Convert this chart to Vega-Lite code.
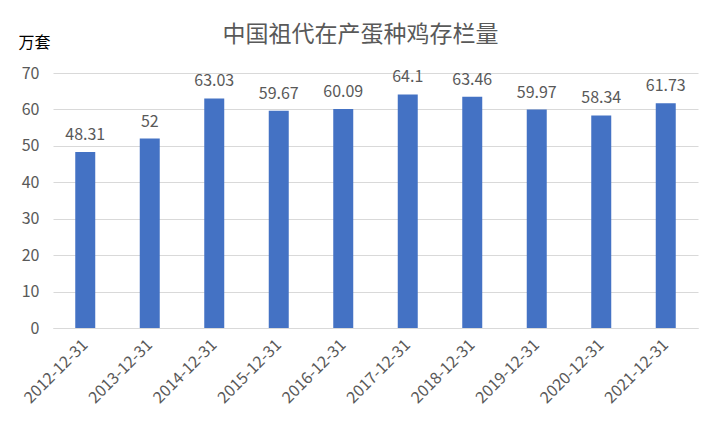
{
  "$schema": "https://vega.github.io/schema/vega-lite/v6.json",
  "width": 645,
  "height": 255,
  "autosize": {"type": "none"},
  "padding": {"left": 53, "top": 73, "right": 23, "bottom": 104},
  "background": "white",
  "title": {
    "text": "中国祖代在产蛋种鸡存栏量",
    "anchor": "middle",
    "dx": -15,
    "offset": 0,
    "dy": 13,
    "font": "Noto Sans CJK SC",
    "fontSize": 23,
    "fontWeight": "normal",
    "color": "#595959"
  },
  "data": {
    "values": [
      {"date": "2012-12-31", "value": 48.31},
      {"date": "2013-12-31", "value": 52},
      {"date": "2014-12-31", "value": 63.03},
      {"date": "2015-12-31", "value": 59.67},
      {"date": "2016-12-31", "value": 60.09},
      {"date": "2017-12-31", "value": 64.1},
      {"date": "2018-12-31", "value": 63.46},
      {"date": "2019-12-31", "value": 59.97},
      {"date": "2020-12-31", "value": 58.34},
      {"date": "2021-12-31", "value": 61.73}
    ]
  },
  "config": {
    "view": {"stroke": null},
    "font": "Noto Sans CJK SC"
  },
  "encoding": {
    "x": {
      "field": "date",
      "type": "nominal",
      "sort": null,
      "scale": {"paddingInner": 0.69, "paddingOuter": 0.345},
      "axis": {
        "title": null,
        "labelAngle": -45,
        "labelAlign": "right",
        "labelBaseline": "middle",
        "labelFontSize": 16,
        "labelColor": "#595959",
        "labelPadding": 14,
        "ticks": false,
        "domainColor": "#d9d9d9",
        "domainWidth": 1
      }
    },
    "y": {
      "field": "value",
      "type": "quantitative",
      "scale": {"domain": [0, 70], "nice": false},
      "axis": {
        "values": [0, 10, 20, 30, 40, 50, 60, 70],
        "title": "万套",
        "titleAngle": 0,
        "titleAlign": "center",
        "titleBaseline": "bottom",
        "titleX": -19,
        "titleY": -23,
        "titleFontSize": 16,
        "titleFontWeight": "normal",
        "titleColor": "#000000",
        "labelFontSize": 16,
        "labelColor": "#595959",
        "labelPadding": 14,
        "ticks": false,
        "domain": false,
        "gridColor": "#d9d9d9",
        "gridWidth": 1
      }
    }
  },
  "layer": [
    {"mark": {"type": "bar", "color": "#4472C4"}},
    {
      "mark": {"type": "text", "baseline": "bottom", "dy": -9, "fontSize": 16, "color": "#595959"},
      "encoding": {"text": {"field": "value", "type": "quantitative"}}
    }
  ]
}
